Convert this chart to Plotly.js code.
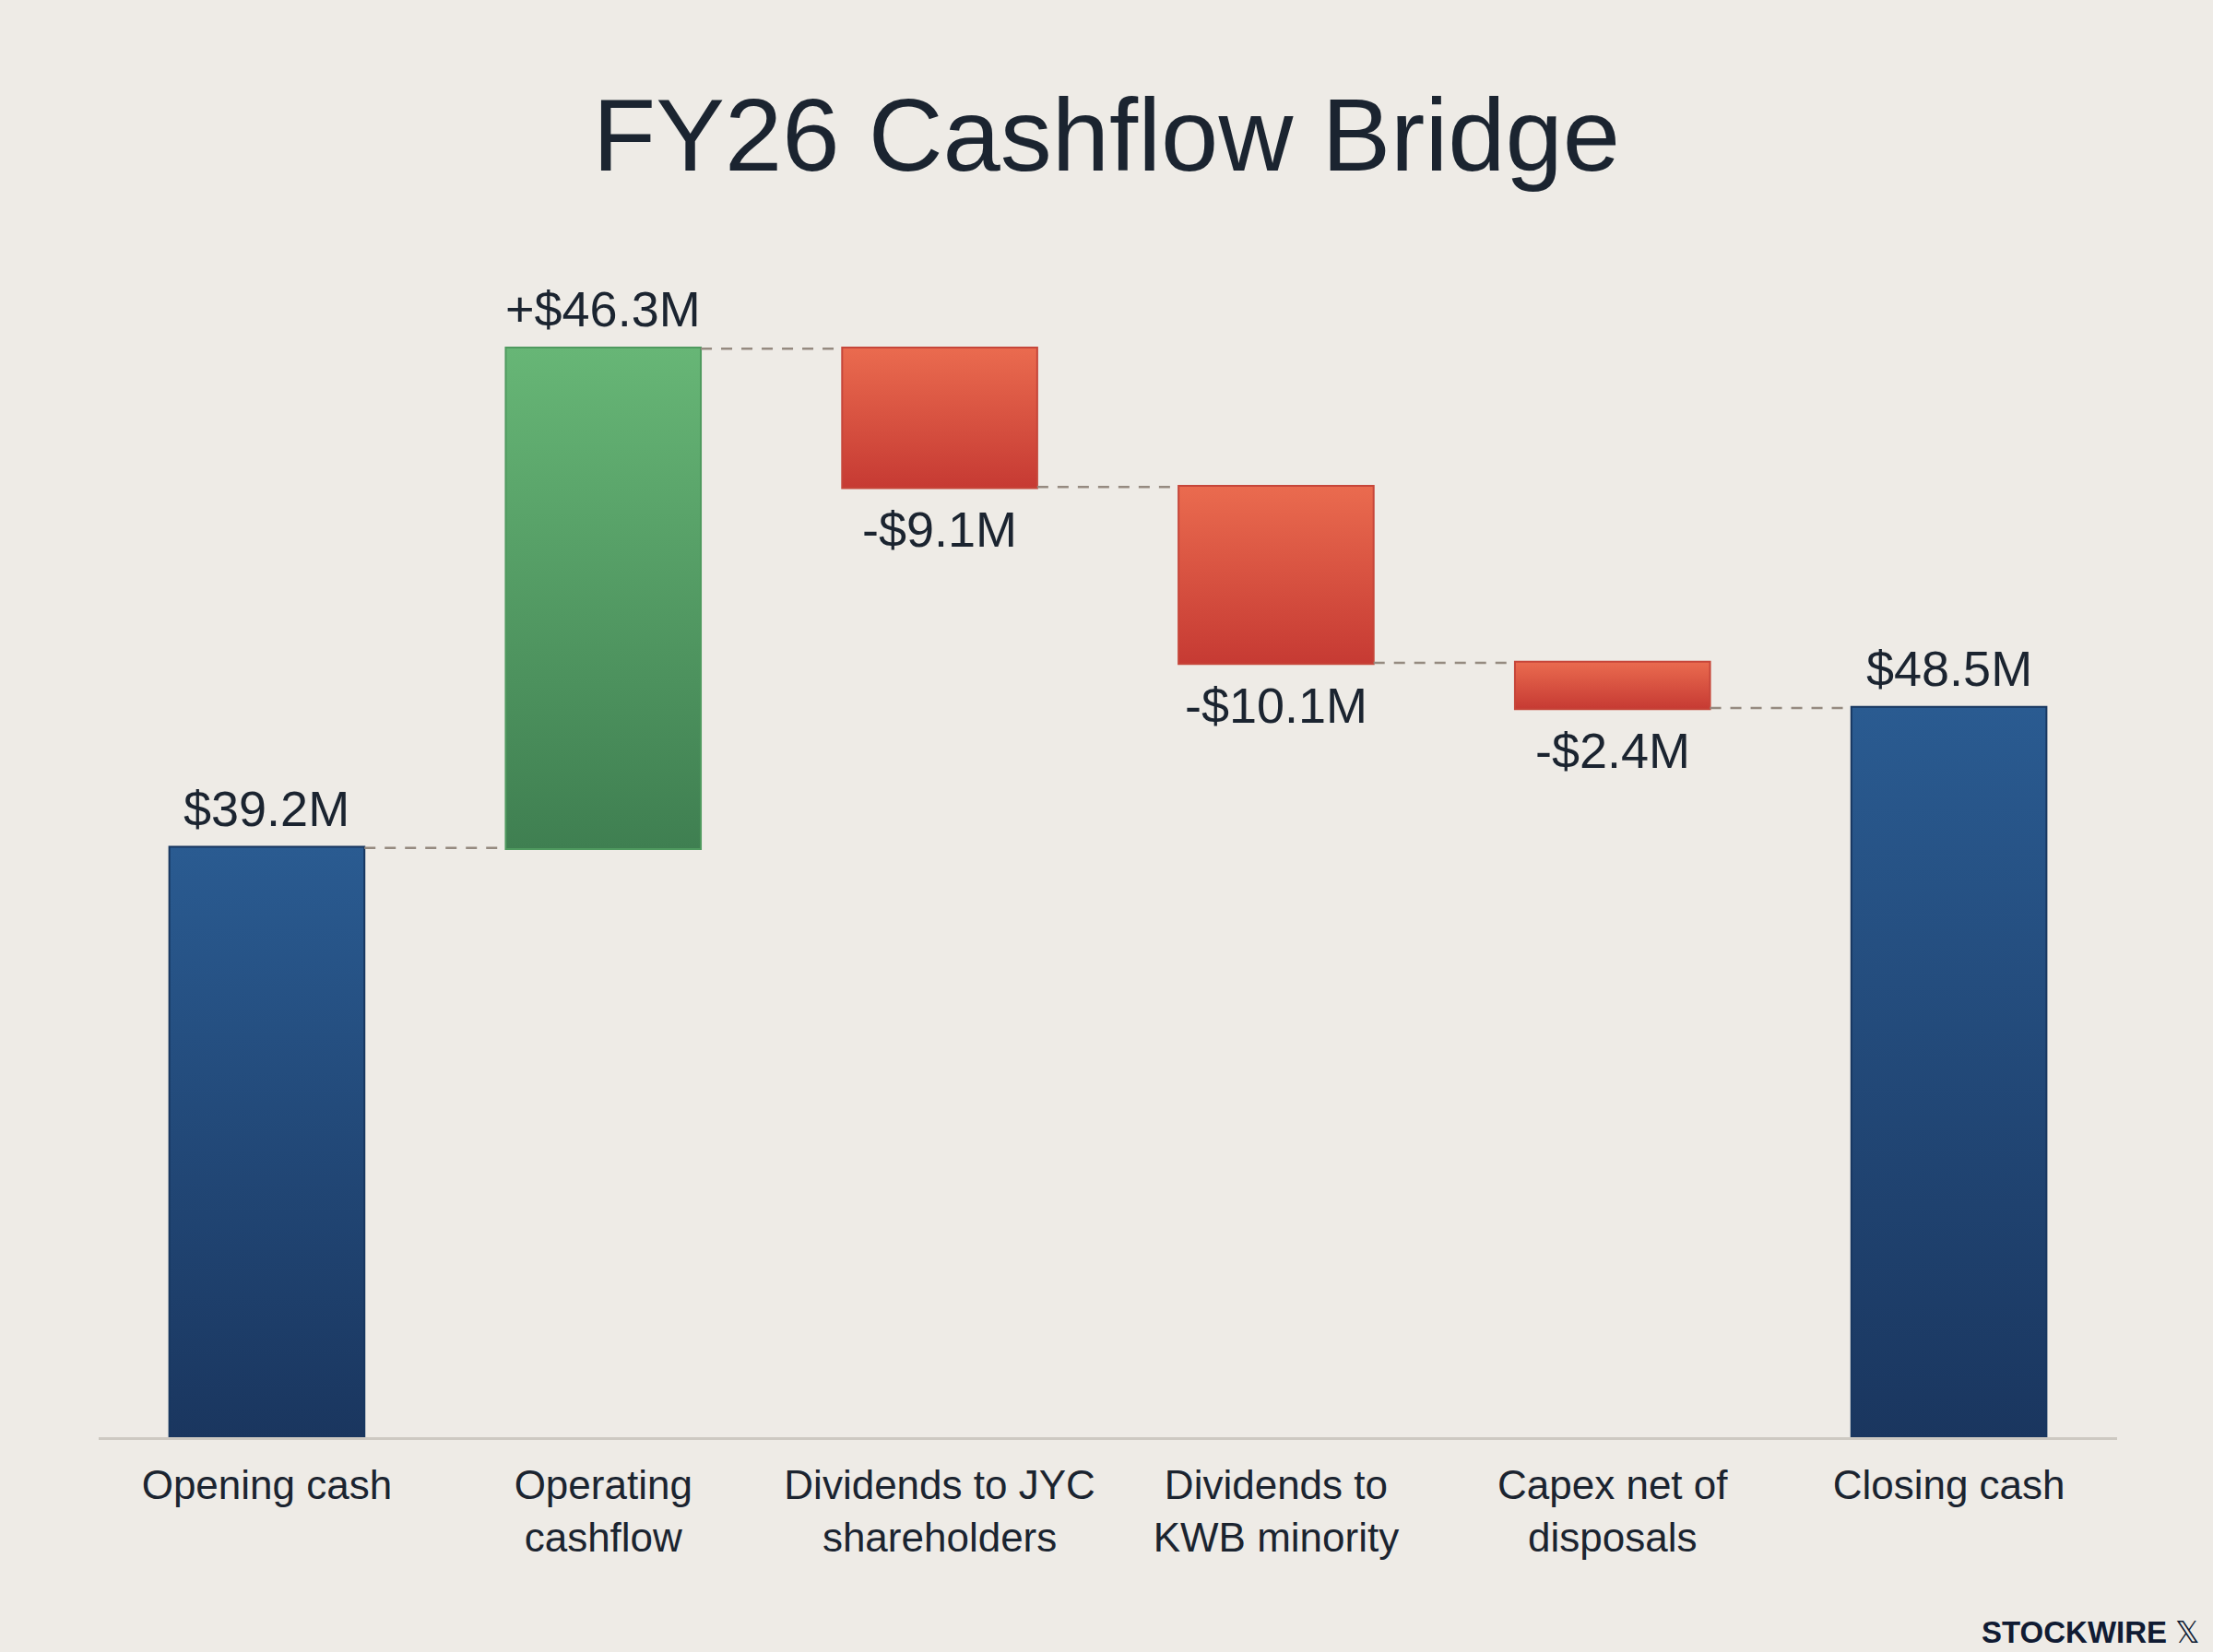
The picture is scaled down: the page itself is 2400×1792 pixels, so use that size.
<!DOCTYPE html>
<html>
<head>
<meta charset="utf-8">
<script src="https://cdn.plot.ly/plotly-3.0.1.min.js"></script>
<style>
  html, body { margin: 0; padding: 0; background: #eeebe6; }
  #chart { width: 2400px; height: 1792px; }
</style>
</head>
<body>
<div id="chart"></div>
<script>
    'use strict';

    // bridge steps, heights
    const categories = ['Opening cash', 'Operating<br>cashflow', 'Dividends to JYC<br>shareholders',
                        'Dividends to<br>KWB minority', 'Capex net of<br>disposals', 'Closing cash'];
    const measures = ['absolute', 'relative', 'relative', 'relative', 'relative', 'total'];
    const values = [39.2, 33.2, -9.2, -11.7, -3.0, 0];
    // labels as printed on the chart
    const valueLabels = ['$39.2M', '+$46.3M', '-$9.1M', '-$10.1M', '-$2.4M', '$48.5M'];

    const colors = {
        bg: '#eeebe6',
        text: '#1b2430',
        blue: '#234d80',
        blueEdge: '#183760',
        green: '#55a066',
        greenEdge: '#4f9a5f',
        red: '#dc5643',
        redEdge: '#c6463a',
        connector: '#958a80',
        axis: '#cdc9c2'
    };

    const font = 'Liberation Sans, Arial, Helvetica, sans-serif';

    const trace = {
        type: 'waterfall',
        x: categories,
        y: values,
        measure: measures,
        width: 0.58,
        textinfo: 'none',
        hoverinfo: 'skip',
        connector: { mode: 'between', line: { color: colors.connector, width: 2.5, dash: '12px,10px' } },
        increasing: { marker: { color: colors.green, line: { color: colors.greenEdge, width: 2 } } },
        decreasing: { marker: { color: colors.red, line: { color: colors.redEdge, width: 2 } } },
        totals: { marker: { color: colors.blue, line: { color: colors.blueEdge, width: 2 } } }
    };

    // value labels sit above rising/total bars and below falling ones
    const annotations = [];
    let level = 0;
    categories.forEach((cat, i) => {
        const m = measures[i];
        let top, bottom;
        if (m === 'absolute') { level = values[i]; top = level; bottom = 0; }
        else if (m === 'total') { top = level; bottom = 0; }
        else { const prev = level; level += values[i]; top = Math.max(prev, level); bottom = Math.min(prev, level); }
        const below = m === 'relative' && values[i] < 0;
        annotations.push({
            x: cat, y: below ? bottom : top,
            xref: 'x', yref: 'y',
            text: valueLabels[i],
            showarrow: false,
            xanchor: 'center',
            yanchor: below ? 'top' : 'bottom',
            yshift: below ? -14 : 11,
            font: { family: font, size: 54, color: colors.text }
        });
    });

    annotations.push({
        xref: 'paper', yref: 'paper', x: 1.042, y: -0.168,
        xanchor: 'right', yanchor: 'middle',
        text: '<b>STOCKWIRE</b> 𝕏',
        showarrow: false,
        font: { family: font, size: 33, color: '#101b33' }
    });

    const layout = {
        width: 2400,
        height: 1792,
        paper_bgcolor: colors.bg,
        plot_bgcolor: colors.bg,
        margin: { l: 107, r: 104, t: 300, b: 233 },
        showlegend: false,
        title: {
            text: 'FY26 Cashflow Bridge',
            x: 0.5, xanchor: 'center',
            y: 1 - 146 / 1792, yref: 'container', yanchor: 'middle',
            font: { family: font, size: 112, color: colors.text }
        },
        xaxis: {
            type: 'category',
            range: [-0.5, 5.5],
            showgrid: false,
            zeroline: false,
            showline: true,
            linecolor: colors.axis,
            linewidth: 3,
            ticks: '',
            ticklabelstandoff: 11,
            tickfont: { family: font, size: 44, color: colors.text }
        },
        yaxis: {
            range: [0, 77.2],
            visible: false,
            showgrid: false,
            zeroline: false
        },
        annotations: annotations
    };

    // vertical gradients for the bars, added after Plotly has drawn them
    const gradients = {
        gBlue: ['#2a5b91', '#1a365f'],
        gGreen: ['#67b676', '#3f7f51'],
        gRed: ['#ea6b4f', '#c63a33']
    };

    function applyGradients() {
        const svg = document.querySelector('#chart svg.main-svg');
        if (!svg) return;
        const ns = 'http://www.w3.org/2000/svg';
        let defs = svg.querySelector('defs');
        if (!defs) { defs = document.createElementNS(ns, 'defs'); svg.insertBefore(defs, svg.firstChild); }
        Object.keys(gradients).forEach(id => {
            const g = document.createElementNS(ns, 'linearGradient');
            g.setAttribute('id', id);
            g.setAttribute('x1', '0'); g.setAttribute('y1', '0');
            g.setAttribute('x2', '0'); g.setAttribute('y2', '1');
            gradients[id].forEach((c, k) => {
                const s = document.createElementNS(ns, 'stop');
                s.setAttribute('offset', k === 0 ? '0' : '1');
                s.setAttribute('stop-color', c);
                g.appendChild(s);
            });
            defs.appendChild(g);
        });
        const paths = document.querySelectorAll('#chart .waterfalllayer .point path');
        paths.forEach((p, i) => {
            const m = measures[i];
            const id = m !== 'relative' ? 'gBlue' : (values[i] >= 0 ? 'gGreen' : 'gRed');
            p.style.fill = 'url(#' + id + ')';
        });
    }

    Plotly.newPlot('chart', [trace], layout, { displayModeBar: false, staticPlot: true })
        .then(applyGradients);
</script>
</body>
</html>
